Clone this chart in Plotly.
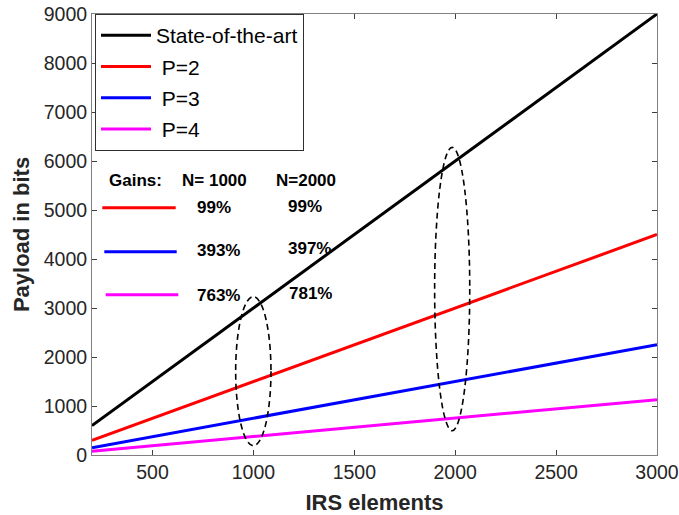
import plotly.graph_objects as go

irs_elements = [200, 1000, 2000, 3000]
state_of_art = [600, 3000, 6000, 9000]
p2 = [300, 1500, 3000, 4500]
p3 = [150, 750, 1500, 2250]
p4 = [75, 375, 750, 1130]

series_names = ["State-of-the-art", " P=2", " P=3", " P=4"]
series_colors = ["#000000", "#ff0000", "#0000ff", "#ff00ff"]

gain_headers = ["Gains:", "N= 1000", "N=2000"]
gains_n1000 = ["99%", "393%", "763%"]
gains_n2000 = ["99%", "397%", "781%"]

x_ticks = [500, 1000, 1500, 2000, 2500, 3000]
y_ticks = [0, 1000, 2000, 3000, 4000, 5000, 6000, 7000, 8000, 9000]

FONT = "Liberation Sans, Arial, Helvetica, sans-serif"

fig = go.Figure()
for name, ys, col in zip(series_names, [state_of_art, p2, p3, p4], series_colors):
    fig.add_trace(go.Scatter(x=irs_elements, y=ys, mode="lines", name=name,
                             legendgroup=name,
                             line=dict(color=col, width=3)))

# dashed ellipses around N=1000 and N=2000
fig.add_shape(type="circle", xref="x", yref="y", x0=912, x1=1087, y0=190, y1=3231,
              line=dict(color="black", width=1.6, dash="6px,4px"))
fig.add_shape(type="circle", xref="x", yref="y", x0=1898, x1=2072, y0=496, y1=6279,
              line=dict(color="black", width=1.6, dash="6px,4px"))

# gains table (paper coordinates)
L, R, T, B = 92, 657, 14, 455
W, H = R - L, B - T
def px(x):
    return (x - L) / W
def py(y):
    return (B - y) / H

tf = dict(family=FONT, size=17, color="black")
def label(x, y, txt):
    fig.add_annotation(x=px(x), y=py(y), xref="paper", yref="paper", text="<b>%s</b>" % txt,
                       showarrow=False, font=tf, xanchor="center", yanchor="middle")

hdr_x = [135, 214, 306]
for hx, txt in zip(hdr_x, gain_headers):
    label(hx, 180, txt)
rows_y = [207.7, 251.7, 294.7]
line_x = [(102.3, 175.7), (104.3, 176.7), (105.7, 178.3)]
g1_pos = [(213.7, 207.7), (218.3, 250.7), (218.3, 295)]
g2_pos = [(304.7, 206.7), (309.2, 248.3), (310, 293.3)]
for i in range(3):
    fig.add_shape(type="line", xref="paper", yref="paper",
                  x0=px(line_x[i][0]), x1=px(line_x[i][1]), y0=py(rows_y[i]), y1=py(rows_y[i]),
                  line=dict(color=series_colors[i + 1], width=3))
    label(g1_pos[i][0], g1_pos[i][1], gains_n1000[i])
    label(g2_pos[i][0], g2_pos[i][1], gains_n2000[i])

axis_common = dict(showgrid=False, zeroline=False, showline=True, mirror="ticks",
                   linecolor="#808080", linewidth=1, ticks="inside", ticklen=5,
                   tickcolor="#404040", automargin=False,
                   tickfont=dict(family=FONT, size=19.5, color="#262626"))

fig.update_layout(
    width=679, height=515,
    margin=dict(l=L, r=679 - R, t=T, b=515 - B),
    plot_bgcolor="white", paper_bgcolor="white",
    xaxis=dict(range=[200, 3000], tickvals=x_ticks,
               title=dict(text="<b>IRS elements</b>", standoff=14,
                          font=dict(family=FONT, size=22, color="#262626")),
               **axis_common),
    yaxis=dict(range=[0, 9000], tickvals=y_ticks,
               title=dict(text="<b>Payload in bits</b>", standoff=8,
                          font=dict(family=FONT, size=22, color="#262626")),
               **axis_common),
    legend=dict(x=px(95), y=py(14), xanchor="left", yanchor="top",
                bordercolor="#303030", borderwidth=1, bgcolor="white",
                font=dict(family=FONT, size=21, color="black"),
                tracegroupgap=1, itemwidth=50),
    showlegend=True,
)

fig.write_html("out.html", config={"displayModeBar": False},
               post_script="document.body.style.margin='0px';document.body.style.overflow='hidden';")
